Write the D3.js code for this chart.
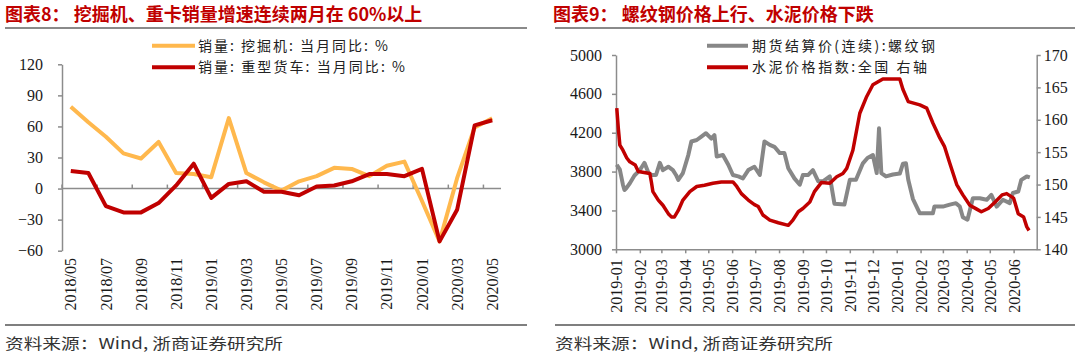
<!DOCTYPE html>
<html><head><meta charset="utf-8">
<script src="https://cdn.jsdelivr.net/npm/d3@7"></script>
<style>
body{margin:0;background:#fff}
svg{display:block}
.num{font-family:"Liberation Serif","Times New Roman",serif;font-size:16px;fill:#1a1a1a}
.cjk{font-family:"Noto Sans CJK SC",sans-serif}
</style></head>
<body><svg id="c" width="1080" height="359"></svg>
<script>
// ---------- Left chart data ----------
const leftCategories = ["2018/05","2018/06","2018/07","2018/08","2018/09","2018/10","2018/11","2018/12",
  "2019/01","2019/02","2019/03","2019/04","2019/05","2019/06","2019/07","2019/08","2019/09","2019/10",
  "2019/11","2019/12","2020/01","2020/02","2020/03","2020/04","2020/05"];
const excavatorYoY = [79,64,50,34,29,45,15,14,11,68,15,6,-2,7,12,20,19,12,22,26,-12,-51,10,59,68];
const heavyTruckYoY = [17,15,-17,-23,-23,-14,3,24,-9,4.5,7,-3,-3,-6.5,2,3,7,14,14,12,19,-51,-20.5,61,66];
const leftYTicks = [-60,-30,0,30,60,90,120];
const leftSeriesNames = ["销量: 挖掘机: 当月同比: %","销量: 重型货车: 当月同比: %"];

// ---------- Right chart data ----------
const steelDates = ["2019-01-02","2019-01-06","2019-01-10","2019-01-12","2019-01-14","2019-01-19","2019-01-25",
  "2019-02-01","2019-02-05","2019-02-07","2019-02-12","2019-02-16","2019-02-22","2019-02-27","2019-03-03",
  "2019-03-10","2019-03-16","2019-03-20","2019-03-23","2019-03-29","2019-04-05","2019-04-09","2019-04-16",
  "2019-04-22","2019-04-28","2019-05-05","2019-05-09","2019-05-12","2019-05-20","2019-05-27","2019-06-02",
  "2019-06-09","2019-06-15","2019-06-22","2019-06-30","2019-07-07","2019-07-13","2019-07-20","2019-07-26",
  "2019-08-02","2019-08-08","2019-08-13","2019-08-21","2019-08-28","2019-09-01","2019-09-08","2019-09-14",
  "2019-09-21","2019-09-27","2019-10-06","2019-10-12","2019-10-25","2019-11-01","2019-11-09","2019-11-18",
  "2019-11-24","2019-12-01","2019-12-06","2019-12-09","2019-12-12","2019-12-18","2019-12-27","2020-01-05",
  "2020-01-09","2020-01-13","2020-01-16","2020-01-22","2020-01-31","2020-02-17","2020-02-19","2020-03-01",
  "2020-03-10","2020-03-18","2020-03-23","2020-03-27","2020-04-02","2020-04-09","2020-04-18","2020-04-27",
  "2020-05-03","2020-05-10","2020-05-18","2020-05-27","2020-05-31","2020-06-07","2020-06-11","2020-06-18","2020-06-22"];
const steelPrice = [3870,3820,3665,3610,3625,3680,3760,
  3815,3865,3890,3790,3765,3765,3890,3815,
  3850,3815,3765,3715,3785,3970,4110,4125,
  4160,4195,4140,4175,3955,3970,3870,3765,
  3750,3730,3815,3850,3765,4110,4075,4055,
  3990,3990,3835,3730,3665,3765,3765,3815,
  3700,3700,3750,3470,3460,3715,3715,3885,
  3940,3970,3785,4245,3785,3750,3770,3780,
  3880,3885,3715,3520,3370,3370,3440,3440,
  3460,3475,3440,3330,3305,3525,3525,3510,
  3560,3440,3510,3475,3580,3595,3715,3750,3740];
const cementDates = ["2019-01-02","2019-01-04","2019-01-06","2019-01-10","2019-01-15","2019-01-19","2019-01-26",
  "2019-01-30","2019-02-14","2019-02-16","2019-02-18","2019-02-25","2019-03-03","2019-03-10","2019-03-14",
  "2019-03-18","2019-03-23","2019-03-29","2019-04-07","2019-04-16","2019-04-26","2019-05-07","2019-05-18",
  "2019-06-02","2019-06-07","2019-06-13","2019-06-22","2019-06-30","2019-07-05","2019-07-11","2019-07-20",
  "2019-07-31","2019-08-13","2019-08-19","2019-08-26","2019-09-01","2019-09-10","2019-09-16","2019-09-25",
  "2019-10-06","2019-10-15","2019-10-23","2019-10-28","2019-11-05","2019-11-14","2019-11-23","2019-12-01",
  "2019-12-14","2020-01-05","2020-01-09","2020-01-16","2020-01-31","2020-02-09","2020-02-17","2020-02-26",
  "2020-03-03","2020-03-10","2020-03-19","2020-03-27","2020-04-05","2020-04-14","2020-04-20","2020-04-29",
  "2020-05-08","2020-05-17","2020-05-23","2020-06-01","2020-06-07","2020-06-14","2020-06-18","2020-06-21"];
const cementIndex = [161.8,158.7,156.1,155.3,154.1,153.5,153.0,
  152.0,151.7,150.4,148.9,147.6,146.8,145.5,145.0,
  145.0,146.0,147.6,148.9,149.7,149.9,150.2,150.4,
  150.4,149.7,148.6,147.6,146.9,146.6,145.3,144.5,
  144.1,143.7,144.5,145.8,146.3,147.3,148.9,150.3,
  150.2,151.2,151.7,152.5,155.3,161.0,163.6,165.4,
  166.3,166.3,164.7,162.8,162.3,161.8,159.5,157.2,
  155.9,153.3,150.0,148.4,146.8,146.2,145.8,146.3,
  147.3,148.4,148.6,147.9,145.5,145.0,143.5,142.9];
const rightLeftTicks = [3000,3400,3800,4200,4600,5000];
const rightRightTicks = [140,145,150,155,160,165,170];
const rightSeriesNames = ["期货结算价(连续):螺纹钢","水泥价格指数:全国 右轴"];

const titles = ["图表8： 挖掘机、重卡销量增速连续两月在 60%以上","图表9： 螺纹钢价格上行、水泥价格下跌"];
const sourceText = "资料来源：Wind, 浙商证券研究所";

// ---------- Drawing ----------
const svg = d3.select("#c");
const RED = "#C00000", ORANGE = "#FFB84D", GRAY = "#878787", AXIS = "#8c8c8c";

function styleAxis(g){
  g.selectAll(".domain").attr("stroke",AXIS).attr("stroke-width",1.5);
  g.selectAll(".tick line").attr("stroke",AXIS).attr("stroke-width",1.5);
  g.selectAll(".tick text").attr("class","num").attr("fill","#1a1a1a");
}

// titles & rules
[[5,5,527],[553,555,1075]].forEach((p,i)=>{
  svg.append("text").attr("class","cjk").attr("x",p[0]).attr("y",20.5)
    .attr("font-size",18).attr("font-weight",700).attr("fill",RED).text(titles[i]);
  svg.append("line").attr("x1",p[1]).attr("x2",p[2]).attr("y1",28).attr("y2",28)
    .attr("stroke","#8a8a8a").attr("stroke-width",2);
  svg.append("line").attr("x1",p[1]).attr("x2",p[2]).attr("y1",325).attr("y2",325)
    .attr("stroke","#555").attr("stroke-width",1.5);
  svg.append("text").attr("class","cjk").attr("x",p[1]).attr("y",349)
    .attr("font-size",15).attr("fill","#333").attr("textLength",278).attr("lengthAdjust","spacingAndGlyphs")
    .text(sourceText);
});

// ===== Left chart =====
const xL = d3.scaleBand().domain(leftCategories).range([62,501]).padding(0);
const bw = xL.bandwidth();
const yL = d3.scaleLinear().domain([-60,120]).range([250.7,64.3]);

const gy = svg.append("g").attr("transform","translate(62,0)")
  .call(d3.axisLeft(yL).tickValues(leftYTicks).tickSize(4).tickSizeOuter(0).tickPadding(15));
styleAxis(gy);

// zero axis line
svg.append("line").attr("x1",xL.range()[0]).attr("x2",xL.range()[1])
  .attr("y1",yL(0)).attr("y2",yL(0)).attr("stroke",AXIS).attr("stroke-width",1.5);
const evenCats = leftCategories.filter((c,i)=>i%2===0);
svg.append("g").selectAll("line").data(evenCats).join("line")
  .attr("x1",d=>xL(d)).attr("x2",d=>xL(d)).attr("y1",yL(0)).attr("y2",yL(0)-4)
  .attr("stroke",AXIS).attr("stroke-width",1.5);
svg.append("g").selectAll("text").data(evenCats).join("text")
  .attr("class","num").attr("text-anchor","end").attr("dy","0.35em")
  .attr("transform",d=>`translate(${xL(d)+bw/2},258) rotate(-90)`).text(d=>d);

const lineL = d3.line().x(d=>xL(d.c)+bw/2).y(d=>yL(d.v));
const leftSeries = [
  {vals:excavatorYoY,color:ORANGE},
  {vals:heavyTruckYoY,color:RED}
];
leftSeries.forEach(s=>{
  svg.append("path").datum(leftCategories.map((c,i)=>({c,v:s.vals[i]})))
    .attr("d",lineL).attr("fill","none").attr("stroke",s.color).attr("stroke-width",4)
    .attr("stroke-linejoin","round");
});
// left legend
[[45.7,190],[67.3,207]].forEach((p,i)=>{
  svg.append("line").attr("x1",152).attr("x2",195).attr("y1",p[0]).attr("y2",p[0])
    .attr("stroke",leftSeries[i].color).attr("stroke-width",4);
  svg.append("text").attr("class","cjk").attr("x",198).attr("y",p[0]+5).attr("font-size",14)
    .attr("fill","#222").attr("textLength",p[1]).attr("lengthAdjust","spacing").text(leftSeriesNames[i]);
});

// ===== Right chart =====
const parse = d3.timeParse("%Y-%m-%d");
const xR = d3.scaleTime().domain([new Date(2019,0,1),new Date(2020,6,1)]).range([616,1036.7]);
const yR1 = d3.scaleLinear().domain([3000,5000]).range([249.3,55]);
const yR2 = d3.scaleLinear().domain([140,170]).range([249.3,55]);

const gyl = svg.append("g").attr("transform","translate(616,0)")
  .call(d3.axisLeft(yR1).tickValues(rightLeftTicks).tickFormat(d3.format("d"))
    .tickSize(4).tickSizeOuter(0).tickPadding(10));
styleAxis(gyl);
const gyr = svg.append("g").attr("transform","translate(1036.7,0)")
  .call(d3.axisRight(yR2).tickValues(rightRightTicks).tickFormat(d3.format("d"))
    .tickSize(4).tickSizeOuter(0).tickPadding(3));
styleAxis(gyr);
const monthTicks = d3.timeMonth.range(new Date(2019,0,1),new Date(2020,6,1));
const gx = svg.append("g").attr("transform","translate(0,249.3)")
  .call(d3.axisBottom(xR).tickValues(monthTicks).tickSize(4).tickSizeOuter(0)
    .tickFormat(d3.timeFormat("%Y-%m")));
styleAxis(gx);
gx.selectAll(".tick text").attr("text-anchor","end").attr("dy","0.35em").attr("y",0)
  .attr("transform","translate(0,10) rotate(-90)");

const steel = steelDates.map((d,i)=>({d:parse(d),v:steelPrice[i]}));
const cement = cementDates.map((d,i)=>({d:parse(d),v:cementIndex[i]}));
svg.append("path").datum(steel).attr("d",d3.line().x(d=>xR(d.d)).y(d=>yR1(d.v)))
  .attr("fill","none").attr("stroke",GRAY).attr("stroke-width",4).attr("stroke-linejoin","round");
svg.append("path").datum(cement).attr("d",d3.line().x(d=>xR(d.d)).y(d=>yR2(d.v)))
  .attr("fill","none").attr("stroke",RED).attr("stroke-width",3.5).attr("stroke-linejoin","round");

// right legend
[[45.7,183,GRAY],[67.3,175,RED]].forEach((p,i)=>{
  svg.append("line").attr("x1",707).attr("x2",748).attr("y1",p[0]).attr("y2",p[0])
    .attr("stroke",p[2]).attr("stroke-width",4);
  svg.append("text").attr("class","cjk").attr("x",752).attr("y",p[0]+5).attr("font-size",14)
    .attr("fill","#222").attr("textLength",p[1]).attr("lengthAdjust","spacing").text(rightSeriesNames[i]);
});
</script></body></html>
